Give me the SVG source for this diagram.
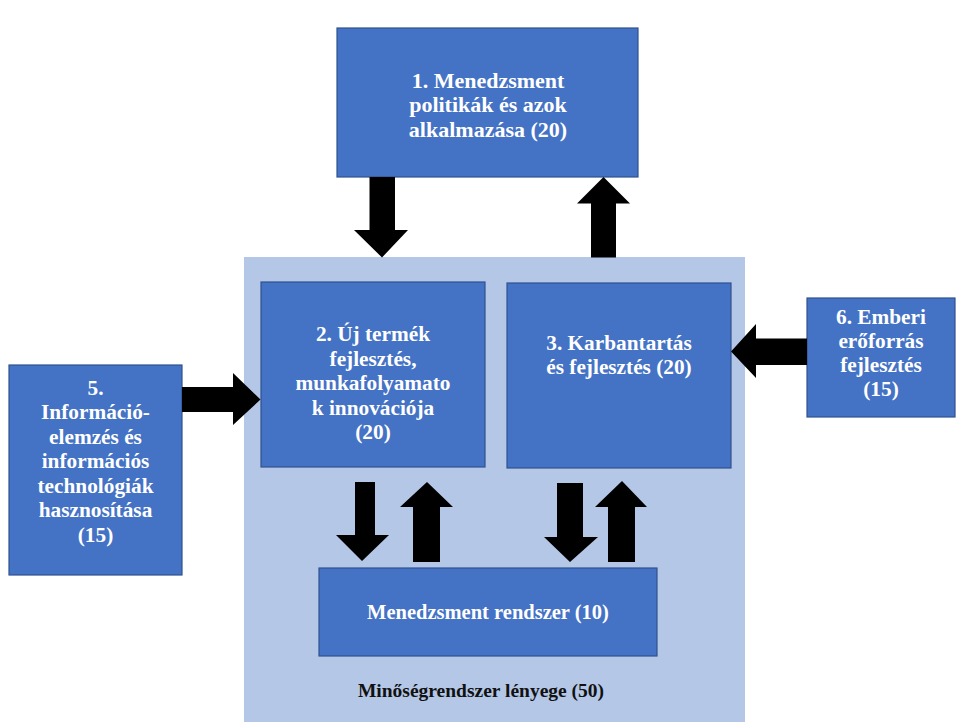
<svg xmlns="http://www.w3.org/2000/svg" width="961" height="722" viewBox="0 0 961 722">
  <style>
    .frame { fill: #B4C7E7; }
    .box { fill: #4472C4; stroke: #2F528F; stroke-width: 1.2; }
    .lbl { font-family: 'Liberation Serif', Tinos, 'Times New Roman', serif; font-weight: bold; font-size: 21.3px; fill: #FFFFFF; text-anchor: middle; }
    .big { font-size: 22px; }
    .small { font-size: 20.5px; }
    .cap { font-family: 'Liberation Serif', Tinos, 'Times New Roman', serif; font-weight: bold; font-size: 19.5px; fill: #111111; text-anchor: middle; }
    .arrow { fill: #000000; }
  </style>
  <rect width="961" height="722" fill="#FFFFFF"/>

  <!-- container: core of the quality system -->
  <g id="core">
    <rect class="frame" x="244" y="257" width="501" height="465"/>
    <text class="cap" x="481" y="697">Minőségrendszer lényege (50)</text>
  </g>

  <g id="node1">
    <rect class="box" x="337" y="28" width="301" height="149"/>
    <text class="lbl big" x="488" y="87.5">1. Menedzsment</text>
    <text class="lbl big" x="488" y="112">politikák és azok</text>
    <text class="lbl big" x="488" y="136.5">alkalmazása (20)</text>
  </g>

  <g id="node2">
    <rect class="box" x="261" y="282" width="224" height="185"/>
    <text class="lbl" x="373" y="341">2. Új termék</text>
    <text class="lbl" x="373" y="365.5">fejlesztés,</text>
    <text class="lbl" x="373" y="390">munkafolyamato</text>
    <text class="lbl" x="373" y="414.5">k innovációja</text>
    <text class="lbl" x="373" y="439">(20)</text>
  </g>

  <g id="node3">
    <rect class="box" x="507" y="283" width="224" height="185"/>
    <text class="lbl" x="619" y="350">3. Karbantartás</text>
    <text class="lbl" x="619" y="374">és fejlesztés (20)</text>
  </g>

  <g id="node4">
    <rect class="box" x="319" y="568" width="338" height="88"/>
    <text class="lbl small" x="488" y="619">Menedzsment rendszer (10)</text>
  </g>

  <g id="node5">
    <rect class="box" x="9" y="365" width="173" height="210"/>
    <text class="lbl" x="95.5" y="394.5">5.</text>
    <text class="lbl" x="95.5" y="419">Információ-</text>
    <text class="lbl" x="95.5" y="443.5">elemzés és</text>
    <text class="lbl" x="95.5" y="468">információs</text>
    <text class="lbl" x="95.5" y="492.5">technológiák</text>
    <text class="lbl" x="95.5" y="517">hasznosítása</text>
    <text class="lbl" x="95.5" y="541.5">(15)</text>
  </g>

  <g id="node6">
    <rect class="box" x="807" y="298" width="148" height="119"/>
    <text class="lbl" x="881" y="324">6. Emberi</text>
    <text class="lbl" x="881" y="348">erőforrás</text>
    <text class="lbl" x="881" y="372">fejlesztés</text>
    <text class="lbl" x="881" y="396">(15)</text>
  </g>

  <!-- block arrows between the boxes -->
  <g id="connectors">
    <!-- 1 -> core -->
    <polygon class="arrow" points="369.5,177 395,177 395,230 408,230 382,257.5 354,230 369.5,230"/>
    <!-- core -> 1 -->
    <polygon class="arrow" points="591,257.5 616,257.5 616,203.5 630,203.5 603.5,177 577,203.5 591,203.5"/>
    <!-- 5 -> 2 -->
    <polygon class="arrow" points="182,387 233,387 233,373 260.5,399.5 233,425 233,412 182,412"/>
    <!-- 6 -> 3 -->
    <polygon class="arrow" points="807,338.5 756,338.5 756,324 731,351.5 756,378 756,365 807,365"/>
    <!-- 2 -> 4 -->
    <polygon class="arrow" points="355,482 375,482 375,535 389,535 362,561 336,535 355,535"/>
    <!-- 4 -> 2 -->
    <polygon class="arrow" points="413,562 440,562 440,507 453,507 427,482 400,507 413,507"/>
    <!-- 3 -> 4 -->
    <polygon class="arrow" points="557,483 583,483 583,537 598,537 570,562 544,537 557,537"/>
    <!-- 4 -> 3 -->
    <polygon class="arrow" points="608,562 635,562 635,507 647,507 622,481 595,507 608,507"/>
  </g>
</svg>
